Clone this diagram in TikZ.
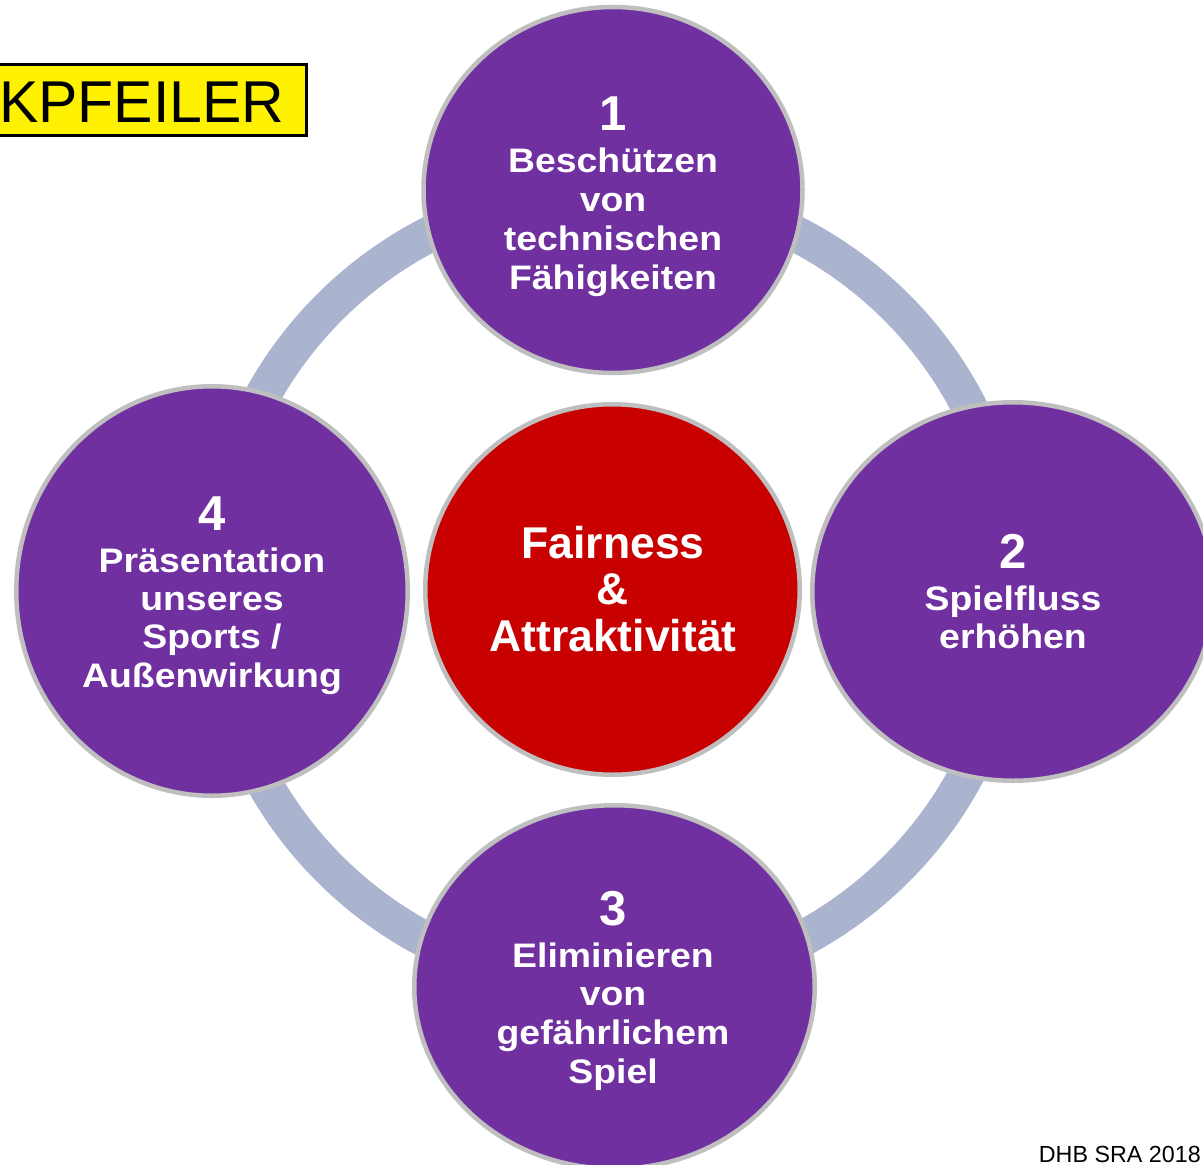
\documentclass[tikz,border=0pt]{standalone}
\usepackage{fontspec}
\setmainfont{Liberation Sans}
\newfontfamily\pfont[FakeStretch=1.1]{Liberation Sans}
\usetikzlibrary{shapes.geometric}
\definecolor{ppl}{HTML}{7030A0}
\definecolor{rd}{HTML}{C80000}
\definecolor{ringc}{HTML}{AAB4CE}
\definecolor{rim}{HTML}{BFBFBF}
\begin{document}
\begin{tikzpicture}[x=1pt,y=-1pt,
  bubble/.style={ellipse, draw=rim, line width=4.5pt, inner sep=0pt},
  pb/.style={bubble, fill=ppl},
  lbl/.style={text=white, font=\pfont\bfseries\fontsize{34}{34}\selectfont, anchor=base, inner sep=0pt},
  num/.style={text=white, font=\bfseries\fontsize{49}{49}\selectfont, anchor=base, inner sep=0pt},
  ctr/.style={text=white, font=\bfseries\fontsize{44.5}{44.5}\selectfont, anchor=base, inner sep=0pt}]
\clip (0,0) rectangle (1203,1165);
\fill[white] (0,0) rectangle (1203,1165);
% ring
\draw[ringc, line width=36pt] (613,588) ellipse [x radius=400, y radius=398];
% bubbles
\node[pb, minimum width=379pt, minimum height=366pt] (c1) at (613,190) {};
\node[pb, minimum width=401.5pt, minimum height=378.5pt] (c2) at (1013,591.5) {};
\node[pb, minimum width=400.5pt, minimum height=363.5pt] (c3) at (614.5,987) {};
\node[pb, minimum width=391.5pt, minimum height=409.5pt] (c4) at (212,591) {};
\node[bubble, fill=rd, minimum width=374.5pt, minimum height=370.5pt] (c0) at (612.5,589.5) {};
% numbers
\node[num] (n1) at (613,130) {1};
\node[num] (n2) at (1013,568) {2};
\node[num] (n3) at (613,925) {3};
\node[num] (n4) at (212,530) {4};
% labels
\foreach \t [count=\i] in {Beschützen,von,technischen,Fähigkeiten}
  \node[lbl] (a\i) at (613,{172+39*(\i-1)}) {\t};
\foreach \t [count=\i] in {Spielfluss,erhöhen}
  \node[lbl] (b\i) at (1013,{610+38.5*(\i-1)}) {\t};
\foreach \t [count=\i] in {Eliminieren,von,gefährlichem,Spiel}
  \node[lbl] (d\i) at (613,{967+38.7*(\i-1)}) {\t};
\foreach \t [count=\i] in {Präsentation,unseres,Sports /,Außenwirkung}
  \node[lbl] (e\i) at (212,{572+38.4*(\i-1)}) {\t};
\foreach \t [count=\i] in {Fairness,\&,Attraktivität}
  \node[ctr] (f\i) at (613,{558+46.5*(\i-1)}) {\t};
% title box
\node[draw=black, fill=yellow, line width=3pt, minimum width=322pt, minimum height=71.5pt, inner sep=0pt, anchor=east] (kbox) at (307.5,100) {};
\node[font=\fontsize{59}{59}\selectfont, anchor=base west, inner sep=0pt] (ktxt) at (-1,122) {KPFEILER};
% footer
\node[font=\fontsize{23.3}{23.3}\selectfont, anchor=base east, inner sep=0pt] (dhb) at (1201,1162) {DHB SRA 2018};
\end{tikzpicture}
\end{document}
